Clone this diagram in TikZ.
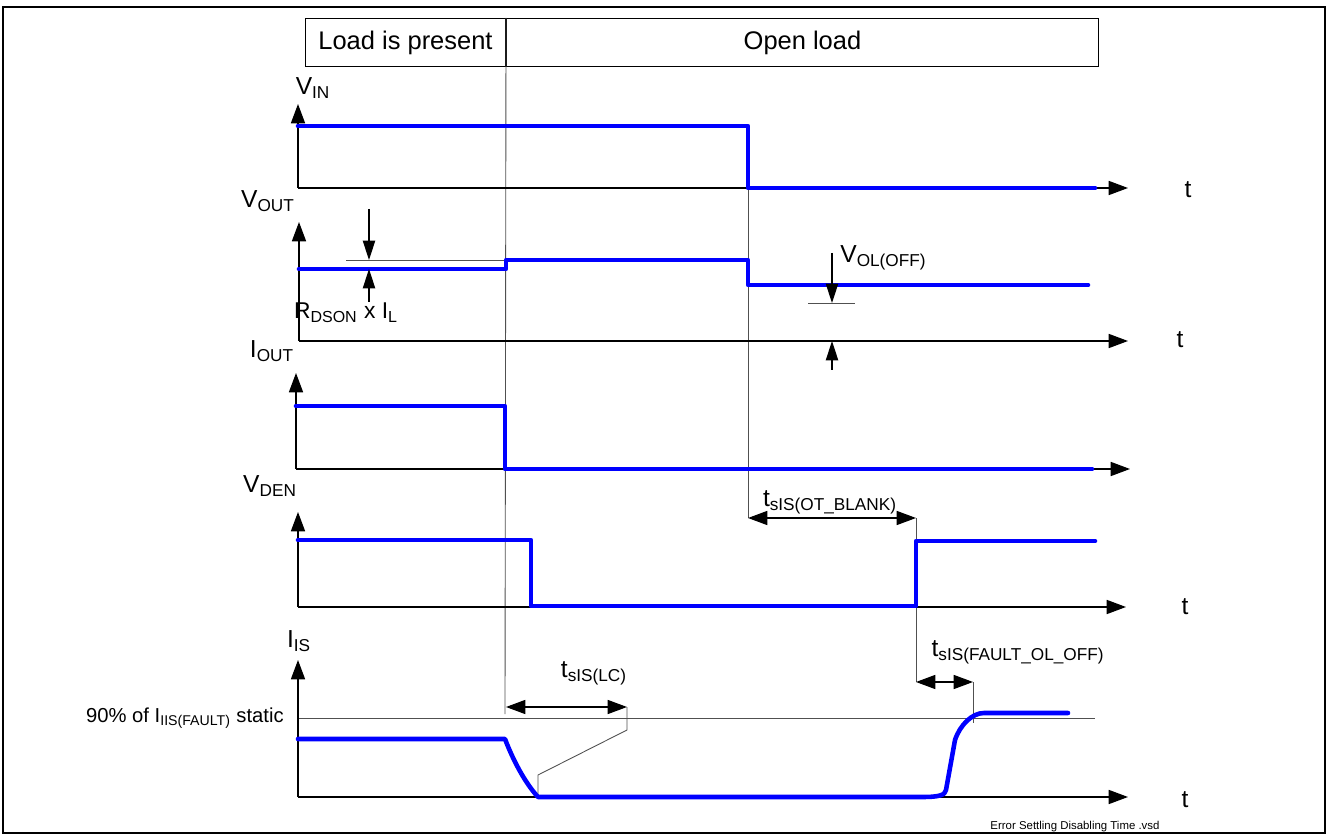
\documentclass[tikz,border=0pt]{standalone}
\usepackage{fontspec}
\setmainfont{Liberation Sans}
\usetikzlibrary{arrows.meta, positioning}
\definecolor{sigblue}{RGB}{0, 0, 255}
\definecolor{guidegray}{RGB}{80, 80, 80}

\begin{document}
\begin{tikzpicture}[x=0.02cm, y=-0.02cm,
    taxis/.style={draw=black, line width=0.8pt, -{Triangle[length=11pt, width=8pt]}},
    dimarrow/.style={draw=black, line width=0.7pt, {Triangle[length=11pt, width=8pt]}-{Triangle[length=11pt, width=8pt]}},
    pointer/.style={draw=black, line width=0.7pt, -{Triangle[length=11pt, width=7pt]}},
    guide/.style={draw=guidegray, line width=0.5pt},
    wave/.style={draw=sigblue, line width=2.6pt, line cap=round, line join=round},
    hdr/.style={draw, line width=0.6pt, minimum height=0.96cm, inner sep=0pt, font=\fontsize{14.5}{16}\selectfont},
    sig/.style={font=\fontsize{14}{16}\selectfont, inner sep=0pt},
    lblsmall/.style={font=\fontsize{11.5}{13}\selectfont, inner sep=0pt}]
    \useasboundingbox (0,0) rectangle (1329,834);
    \draw[line width=0.8pt] (3,7) rectangle (1325,833);

    % header
    \node[hdr, minimum width=4cm, anchor=north west] (present) at (305,18) {Load is present};
    \node[hdr, minimum width=11.84cm, right=0pt of present] (open) {Open load};

    % guide lines
    \draw[guide] (present.north east) -- (505,714);
    \draw[guide] (748,126) -- (748,518);
    \draw[guide] (916,518) -- (916,682);
    \draw[guide] (973,682) -- (973,723);
    \draw[guide] (298,718) -- (1095,718);
    \draw[guide] (346,260) -- (506,260);
    \draw[guide] (808,303) -- (855,303);
    \draw[guide] (627,707) -- (627,730) -- (538,775) -- (538,797);

    % axes
    \coordinate (vin0) at (298,188);
    \coordinate (vout0) at (299,341);
    \coordinate (iout0) at (296,469);
    \coordinate (vden0) at (298,607);
    \coordinate (iis0) at (298,797);
    \draw[taxis] (vin0) -- (298,104);
    \draw[taxis] (vin0) -- (1128,188);
    \draw[taxis] (vout0) -- (299,222);
    \draw[taxis] (vout0) -- (1128,341);
    \draw[taxis] (iout0) -- (296,373);
    \draw[taxis] (iout0) -- (1130,469);
    \draw[taxis] (vden0) -- (298,512);
    \draw[taxis] (vden0) -- (1126,607);
    \draw[taxis] (iis0) -- (298,660);
    \draw[taxis] (iis0) -- (1128,797);

    % signals
    \draw[wave] (298,126) -- (748,126) -- (748,188) -- (1095,188);
    \draw[wave] (vout0 |- 0,269) -- (506,269) -- (506,260) -- (748,260) -- (748,285) -- (1088,285);
    \draw[wave] (296,406) -- (505,406) -- (505,469) -- (1092,469);
    \draw[wave] (298,540) -- (531,540) -- (531,606) -- (916,606) -- (916,541) -- (1095,541);
    \draw[wave] (298,739) -- (505,739) .. controls (515,765) and (527,785) .. (538,797)
        -- (922,797) .. controls (940,797) and (945,795) .. (946,790)
        -- (955,740) .. controls (960,725) and (972,713) .. (984,713) -- (1068,713);

    % signal names
    \node[sig] (vin) at (313,88) {V\textsubscript{IN}};
    \node[sig] (vout) at (268,201) {V\textsubscript{OUT}};
    \node[sig] (iout) at (272,351) {I\textsubscript{OUT}};
    \node[sig] (vden) at (270,486) {V\textsubscript{DEN}};
    \node[sig] (iis) at (299,641) {I\textsubscript{IS}};
    \node[lblsmall, anchor=east] (fault) at (284,718) {90\% of I\textsubscript{IIS(FAULT)} static};

    % time labels
    \node[sig] (t1) at (1188,190) {t};
    \node[sig] (t2) at (1180,340) {t};
    \node[sig] (t3) at (1185,607) {t};
    \node[sig] (t4) at (1185,800) {t};

    % voltage drops
    \draw[pointer] (369,209) -- (369,260);
    \draw[pointer] (369,302) -- (369,269);
    \node[sig, font=\fontsize{13}{15}\selectfont] (rdson) at (346,313) {R\textsubscript{DSON} x I\textsubscript{L}};
    \draw[pointer] (832,253) -- (832,303);
    \draw[pointer] (832,370) -- (832,341);
    \node[sig, anchor=west] (vol) at (840,258) {V\textsubscript{OL(OFF)}};

    % timings
    \draw[dimarrow] (748,518) -- (916,518);
    \node[sig] (tblank) at (830,502) {t\textsubscript{sIS(OT\_BLANK)}};
    \draw[dimarrow] (916,682) -- (973,682);
    \node[sig] (tfault) at (1018,652) {t\textsubscript{sIS(FAULT\_OL\_OFF)}};
    \draw[dimarrow] (506,707) -- (627,707);
    \node[sig] (tlc) at (594,673) {t\textsubscript{sIS(LC)}};

    \node[font=\fontsize{6.5}{8}\selectfont, inner sep=0pt] (file) at (1075,827) {Error Settling Disabling Time .vsd};
\end{tikzpicture}
\end{document}
